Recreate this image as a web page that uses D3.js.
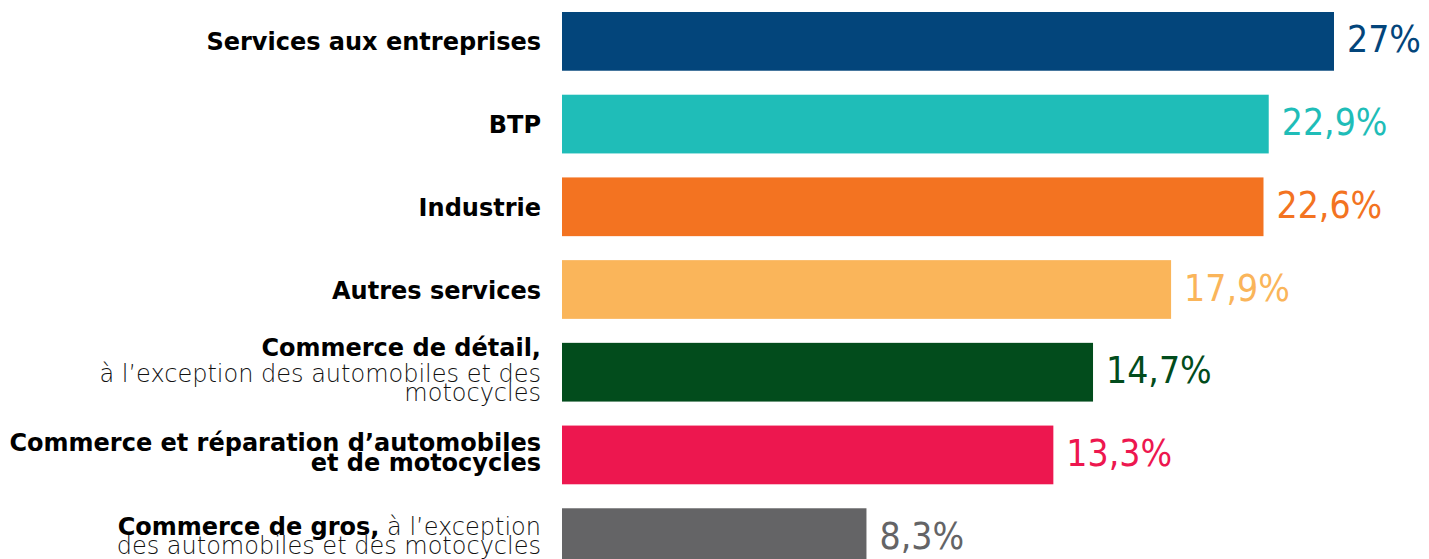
<!DOCTYPE html>
<html>
<head>
<meta charset="utf-8">
<script src="https://cdn.jsdelivr.net/npm/d3@7"></script>
<style>
  html, body { margin: 0; padding: 0; background: #fff; }
  svg { display: block; }
</style>
</head>
<body>
<div id="chart"></div>
<script>
  //============================================================
  // Data
  //------------------------------------------------------------

  var categories = ['Services aux entreprises', 'BTP', 'Industrie', 'Autres services',
    'Commerce de détail', 'Commerce et réparation d’automobiles', 'Commerce de gros'];

  var shares = [27, 22.9, 22.6, 17.9, 14.7, 13.3, 8.3];

  var colors = ['#03457b', '#1fbdb8', '#f37321', '#fab55a', '#024c1c', '#ed174f', '#646466'];

  // label lines, each line a list of [text, bold] pieces
  var labelLines = [
    [[['Services aux entreprises', true]]],
    [[['BTP', true]]],
    [[['Industrie', true]]],
    [[['Autres services', true]]],
    [[['Commerce de détail,', true]],
     [['à l’exception des automobiles et des', false]],
     [['motocycles', false]]],
    [[['Commerce et réparation d’automobiles', true]],
     [['et de motocycles', true]]],
    [[['Commerce de gros,', true], [' à l’exception', false]],
     [['des automobiles et des motocycles', false]]]
  ];

  //============================================================
  // Layout
  //------------------------------------------------------------

  var width = 1429
    , height = 559
    , barLeft = 562
    , labelRight = 541
    , fmt = function (v) { return String(v).replace('.', ',') + '%'; }
    ;

  var data = categories.map(function (c, i) {
    return { key: c, value: shares[i], color: colors[i], lines: labelLines[i] };
  });

  // bar lengths in the original are not proportional, a log scale fits them best
  var x = d3.scaleLog()
      .domain([3.85, 27])
      .range([0, 772]);

  var y = d3.scaleBand()
      .domain(categories)
      .range([12, 567])
      .paddingInner(0.29)
      .paddingOuter(0);

  var svg = d3.select('#chart').append('svg')
      .attr('width', width)
      .attr('height', height);

  var rows = svg.selectAll('g.row')
      .data(data)
    .enter().append('g')
      .attr('class', 'row')
      .attr('transform', function (d) { return 'translate(0,' + (y(d.key) + y.bandwidth() / 2) + ')'; });

  rows.append('rect')
      .attr('x', barLeft)
      .attr('y', -y.bandwidth() / 2)
      .attr('width', function (d) { return x(d.value); })
      .attr('height', y.bandwidth())
      .attr('fill', function (d) { return d.color; });

  rows.append('text')
      .attr('x', function (d) { return barLeft + x(d.value) + 13; })
      .attr('dy', '0.3em')
      .attr('fill', function (d) { return d.color; })
      .style('font-family', '"DejaVu Sans Condensed", "DejaVu Sans", sans-serif')
      .style('font-stretch', 'condensed')
      .style('font-size', '37px')
      .text(function (d) { return fmt(d.value); });

  //------------------------------------------------------------
  // left labels, right aligned, block centred on the bar

  rows.each(function (d) {
    var steps = d.lines.map(function (line, i) {
      if (i === 0) { return 0; }
      var prev = d.lines[i - 1]
        , prevBoldOnly = prev.every(function (p) { return p[1]; })
        , light = line.every(function (p) { return !p[1]; });
      if (light && prevBoldOnly) { return 26; }
      if (light) { return 19; }
      return 20;
    });
    var total = d3.sum(steps)
      , top = 9 - total / 2 - (total > 0 ? 2.5 : 0);

    var text = d3.select(this).append('text')
        .attr('text-anchor', 'end')
        .attr('fill', '#000')
        .style('font-family', '"DejaVu Sans", sans-serif')
        .style('font-size', '24px');

    d.lines.forEach(function (line, i) {
      var t = text.append('tspan')
          .attr('x', labelRight)
          .attr('y', top + d3.sum(steps.slice(0, i + 1)));
      line.forEach(function (p) {
        t.append('tspan')
            .style('font-weight', p[1] ? 'bold' : 200)
            .attr('fill', p[1] ? '#000' : '#111')
            .text(p[0]);
      });
    });
  });
</script>
</body>
</html>
